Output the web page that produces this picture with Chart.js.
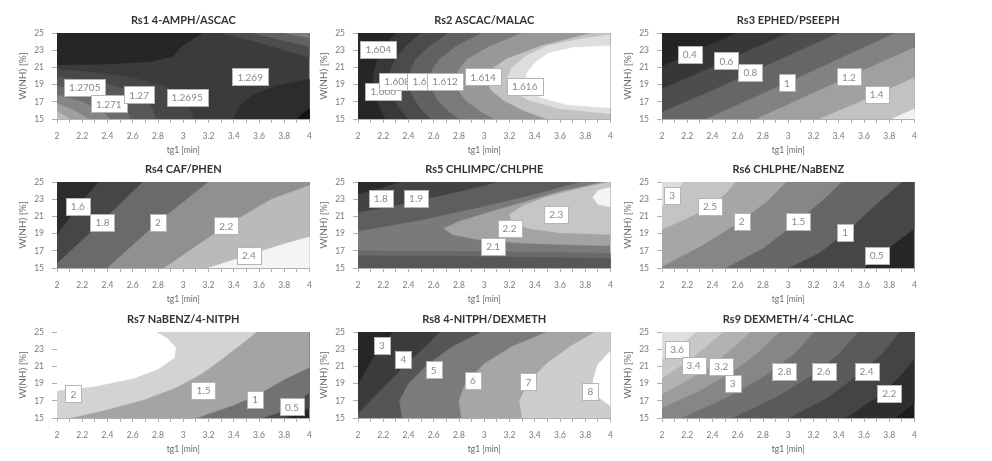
<!DOCTYPE html>
<html>
<head>
<meta charset="utf-8">
<script src="https://cdn.jsdelivr.net/npm/chart.js@4.4.1/dist/chart.umd.min.js"></script>
<style>
  html, body { margin: 0; padding: 0; background: #fff; }
  #sheet { position: relative; width: 992px; height: 461px; overflow: hidden; background: #fff; }
  #sheet canvas { position: absolute; }
</style>
</head>
<body>
<div id="sheet"></div>
<script>
// ---- axes ----
const xTickValues = [2, 2.1, 2.2, 2.3, 2.4, 2.5, 2.6, 2.7, 2.8, 2.9, 3, 3.1, 3.2, 3.3, 3.4, 3.5, 3.6, 3.7, 3.8, 3.9, 4];
const xTickLabels = ['2', '2.2', '2.4', '2.6', '2.8', '3', '3.2', '3.4', '3.6', '3.8', '4'];
const yTickValues = [15, 17, 19, 21, 23, 25];
const xAxisTitle = 'tg1 [min]';
const yAxisTitle = 'W(NH) [%]';

// ---- contour regions: each entry is a closed outline [tg1, W] in painting order ----
const rs1Title = 'Rs1 4-AMPH/ASCAC';
const rs1Regions = [
  [[2, 15], [4, 15], [4, 25], [2, 25]],
  [[2, 25], [2, 21.3], [2.4, 21.4], [2.75, 21.7], [2.92, 22.3], [2.98, 23.4], [3.15, 25]],
  [[3.3, 25], [3.6, 23.9], [3.85, 22.8], [4, 22.2], [4, 25]],
  [[3.55, 25], [3.8, 24.1], [4, 23.4], [4, 25]],
  [[3.8, 25], [4, 24.4], [4, 25]],
  [[3.4, 15], [3.45, 16.5], [3.55, 17.8], [3.75, 18.9], [4, 19.6], [4, 15]],
  [[3.9, 15], [3.95, 15.7], [4, 16.2], [4, 15]],
  [[2, 20.8], [2.3, 20.4], [2.6, 19.8], [2.85, 18.8], [3.0, 17.5], [3.05, 16.2], [3.08, 15], [2, 15]],
  [[2, 19.9], [2.3, 19.4], [2.55, 18.5], [2.7, 17.3], [2.76, 16.1], [2.78, 15], [2, 15]],
  [[2, 18.8], [2.25, 18.1], [2.45, 17], [2.55, 15.9], [2.58, 15], [2, 15]],
  [[2, 17.8], [2.2, 17], [2.35, 16], [2.42, 15], [2, 15]],
  [[2, 16.8], [2.12, 16.1], [2.25, 15], [2, 15]],
  [[2, 15.9], [2.1, 15], [2, 15]]
];
const rs1LabelText = ['1.2705', '1.271', '1.27', '1.2695', '1.269'];
const rs1LabelX = [2.22, 2.41, 2.65, 3.03, 3.53];
const rs1LabelY = [18.7, 16.75, 17.8, 17.5, 19.9];

const rs2Title = 'Rs2 ASCAC/MALAC';
const rs2Regions = [
  [[2, 15], [4, 15], [4, 25], [2, 25]],
  [[2.30, 25], [2.21, 23.5], [2.16, 22], [2.13, 20.8], [2.12, 19.6], [2.13, 18.4], [2.15, 17.2], [2.18, 16], [2.22, 15], [4, 15], [4, 25]],
  [[2.50, 25], [2.38, 23.5], [2.30, 22], [2.26, 20.8], [2.25, 19.6], [2.26, 18.4], [2.29, 17.2], [2.34, 16], [2.40, 15], [4, 15], [4, 25]],
  [[2.72, 25], [2.57, 23.5], [2.46, 22], [2.42, 20.8], [2.40, 19.6], [2.41, 18.4], [2.45, 17.2], [2.51, 16], [2.58, 15], [4, 15], [4, 25]],
  [[2.98, 25], [2.78, 23.5], [2.65, 22], [2.59, 20.8], [2.57, 19.6], [2.59, 18.4], [2.63, 17.2], [2.71, 16], [2.80, 15], [4, 15], [4, 25]],
  [[3.30, 25], [3.05, 23.5], [2.87, 22], [2.80, 20.8], [2.77, 19.6], [2.79, 18.4], [2.85, 17.2], [2.96, 16], [3.08, 15], [4, 15], [4, 25]],
  [[3.85, 25], [3.45, 23.5], [3.18, 22], [3.06, 20.8], [3.02, 19.6], [3.05, 18.4], [3.15, 17.2], [3.31, 16], [3.50, 15], [4, 15], [4, 25]],
  [[4, 24.8], [3.75, 24.3], [3.5, 23.5], [3.33, 22.3], [3.22, 21], [3.18, 19.6], [3.22, 18.3], [3.35, 17.2], [3.6, 16.2], [4, 15.6]],
  [[4, 23.5], [3.7, 23.3], [3.5, 22.6], [3.4, 21.5], [3.34, 20.4], [3.33, 19.6], [3.35, 18.6], [3.45, 17.5], [3.65, 16.7], [4, 16.3]]
];
const rs2LabelText = ['1.604', '1.606', '1.608', '1.61', '1.612', '1.614', '1.616'];
const rs2LabelX = [2.16, 2.2, 2.31, 2.51, 2.69, 2.99, 3.32];
const rs2LabelY = [23.05, 18.2, 19.4, 19.4, 19.4, 19.9, 18.8];

const rs3Title = 'Rs3 EPHED/PSEEPH';
const rs3Regions = [
  [[2, 15], [4, 15], [4, 25], [2, 25]],
  [[2, 21.1], [2.3, 23.1], [2.59, 25], [4, 25], [4, 15], [2, 15]],
  [[2, 18.5], [2.5, 21.7], [3.0, 25], [4, 25], [4, 15], [2, 15]],
  [[2, 15.8], [2.4, 18.3], [2.71, 20.4], [3.4, 25], [4, 25], [4, 15], [2, 15]],
  [[2.35, 15], [2.99, 19.2], [3.85, 25], [4, 25], [4, 15]],
  [[2.75, 15], [3.48, 19.9], [4, 23.3], [4, 15]],
  [[3.25, 15], [3.71, 17.9], [4, 19.8], [4, 15]],
  [[3.82, 15], [4, 16.2], [4, 15]]
];
const rs3LabelText = ['0.4', '0.6', '0.8', '1', '1.2', '1.4'];
const rs3LabelX = [2.22, 2.51, 2.70, 2.99, 3.48, 3.70];
const rs3LabelY = [22.5, 21.75, 20.4, 19.2, 19.9, 17.9];

const rs4Title = 'Rs4 CAF/PHEN';
const rs4Regions = [
  [[2, 15], [4, 15], [4, 25], [2, 25]],
  [[2, 18.8], [2.16, 22.1], [2.33, 25], [4, 25], [4, 15], [2, 15]],
  [[2, 15.5], [2.35, 20.3], [2.68, 25], [4, 25], [4, 15], [2, 15]],
  [[2.4, 15], [2.8, 20.3], [3.2, 25], [4, 25], [4, 15]],
  [[2.85, 15], [3.35, 20], [3.7, 23], [4, 24.6], [4, 15]],
  [[3.2, 15], [3.52, 16.5], [3.8, 17.8], [4, 18.6], [4, 15]]
];
const rs4LabelText = ['1.6', '1.8', '2', '2.2', '2.4'];
const rs4LabelX = [2.165, 2.36, 2.80, 3.34, 3.52];
const rs4LabelY = [22.15, 20.3, 20.3, 19.9, 16.5];

const rs5Title = 'Rs5 CHLIMPC/CHLPHE';
const rs5Regions = [
  [[2, 15], [4, 15], [4, 25], [2, 25]],
  [[2, 15], [2, 17.0], [3, 16.9], [4, 16.7], [4, 15]],
  [[2, 15], [2, 16.4], [3, 16.3], [4, 16.1], [4, 15]],
  [[2, 25], [2, 19.3], [2.5, 20.6], [3, 22.2], [3.4, 23.6], [3.75, 25]],
  [[2, 25], [2, 21.5], [2.4, 22.6], [2.8, 23.9], [3.1, 25]],
  [[2, 25], [2, 23.6], [2.2, 24.4], [2.32, 25]],
  [[4, 25], [3.95, 25], [3.6, 23.9], [3.3, 22.6], [3.0, 21.3], [2.8, 20.4], [2.68, 19.6], [2.75, 18.9], [2.95, 18.3], [3.3, 17.9], [3.7, 17.7], [4, 17.6]],
  [[4, 25], [3.8, 24.4], [3.5, 23.3], [3.3, 22.2], [3.2, 21.2], [3.22, 20.3], [3.35, 19.6], [3.6, 19.1], [4, 18.9]],
  [[4, 24.4], [3.9, 24.0], [3.86, 23.2], [3.9, 22.4], [4, 22.1]]
];
const rs5LabelText = ['1.8', '1.9', '2.3', '2.2', '2.1'];
const rs5LabelX = [2.18, 2.46, 3.57, 3.20, 3.07];
const rs5LabelY = [23.1, 23.1, 21.2, 19.6, 17.5];

const rs6Title = 'Rs6 CHLPHE/NaBENZ';
const rs6Regions = [
  [[2, 15], [4, 15], [4, 25], [2, 25]],
  [[3.6, 15], [3.72, 16.5], [3.88, 18.3], [4, 19.6], [4, 25], [2, 25], [2, 15]],
  [[3.0, 15], [3.25, 16.8], [3.45, 19.1], [3.65, 21.8], [3.82, 24], [3.9, 25], [2, 25], [2, 15]],
  [[2.5, 15], [2.8, 17.3], [3.08, 20.5], [3.28, 23], [3.42, 25], [2, 25], [2, 15]],
  [[2, 15.2], [2.3, 17.5], [2.63, 20.5], [2.85, 23], [2.98, 25], [2, 25]],
  [[2, 19.5], [2.2, 20.8], [2.38, 22.1], [2.5, 23.6], [2.58, 25], [2, 25]],
  [[2, 22.2], [2.08, 23.5], [2.17, 25], [2, 25]]
];
const rs6LabelText = ['3', '2.5', '2', '1.5', '1', '0.5'];
const rs6LabelX = [2.08, 2.38, 2.63, 3.08, 3.45, 3.70];
const rs6LabelY = [23.4, 22.15, 20.4, 20.4, 19.1, 16.5];

const rs7Title = 'Rs7 NaBENZ/4-NITPH';
const rs7Regions = [
  [[2, 15], [4, 15], [4, 25], [2, 25]],
  [[3.8, 15], [3.88, 15.4], [4, 16.2], [4, 25], [2, 25], [2, 15]],
  [[3.62, 15], [3.75, 15.6], [3.9, 16.8], [4, 18], [4, 25], [2, 25], [2, 15]],
  [[3.1, 15], [3.2, 15.5], [3.4, 16.5], [3.6, 17.8], [3.8, 19.5], [4, 20.9], [4, 25], [2, 25], [2, 15]],
  [[2.1, 15], [2.4, 16], [2.7, 17.2], [2.95, 18.6], [3.15, 20.2], [3.3, 21.8], [3.45, 23.5], [3.58, 25], [2, 25], [2, 15]],
  [[2, 18.2], [2.3, 18.7], [2.6, 19.6], [2.8, 20.7], [2.93, 22], [2.94, 23.2], [2.87, 24.3], [2.78, 25], [2, 25]]
];
const rs7LabelText = ['2', '1.5', '1', '0.5'];
const rs7LabelX = [2.13, 3.16, 3.57, 3.86];
const rs7LabelY = [17.8, 18.2, 17.2, 16.3];

const rs8Title = 'Rs8 4-NITPH/DEXMETH';
const rs8Regions = [
  [[2, 15], [4, 15], [4, 25], [2, 25]],
  [[2, 18.8], [2.1, 21.5], [2.2, 23.5], [2.28, 25], [4, 25], [4, 15], [2, 15]],
  [[2, 15.5], [2.2, 18.5], [2.4, 21.5], [2.55, 23.5], [2.65, 25], [4, 25], [4, 15], [2, 15]],
  [[2.35, 15], [2.33, 17], [2.4, 19], [2.55, 21.2], [2.75, 23.3], [2.98, 25], [4, 25], [4, 15]],
  [[2.82, 15], [2.8, 17], [2.85, 19], [3.0, 21.3], [3.22, 23.3], [3.5, 25], [4, 25], [4, 15]],
  [[3.3, 15], [3.28, 17], [3.35, 19.2], [3.5, 21.4], [3.68, 23.3], [3.88, 25], [4, 25], [4, 15]],
  [[4, 16.4], [3.9, 17.5], [3.86, 19.3], [3.9, 21.2], [4, 22.8]]
];
const rs8LabelText = ['3', '4', '5', '6', '7', '8'];
const rs8LabelX = [2.19, 2.36, 2.60, 2.91, 3.35, 3.84];
const rs8LabelY = [23.4, 21.8, 20.6, 19.35, 19.2, 18.1];

const rs9Title = 'Rs9 DEXMETH/4\u00B4-CHLAC';
const rs9Regions = [
  [[2, 15], [4, 15], [4, 25], [2, 25]],
  [[3.85, 15], [4, 16.8], [4, 25], [2, 25], [2, 15]],
  [[3.45, 15], [3.7, 17.4], [3.88, 19.8], [4, 21.9], [4, 25], [2, 25], [2, 15]],
  [[3.0, 15], [3.3, 17.3], [3.55, 20], [3.75, 22.6], [3.88, 25], [2, 25], [2, 15]],
  [[2.55, 15], [2.9, 17.4], [3.2, 20.1], [3.4, 22.5], [3.55, 25], [2, 25], [2, 15]],
  [[2.15, 15], [2.5, 17.3], [2.8, 19.8], [3.05, 22.5], [3.2, 25], [2, 25], [2, 15]],
  [[2, 16.2], [2.3, 18.2], [2.55, 20.3], [2.75, 22.5], [2.93, 25], [2, 25]],
  [[2, 17.8], [2.3, 20.2], [2.5, 22.4], [2.7, 25], [2, 25]],
  [[2, 19.6], [2.2, 21.6], [2.35, 23.3], [2.48, 25], [2, 25]],
  [[2, 21.8], [2.15, 23.5], [2.27, 25], [2, 25]]
];
const rs9LabelText = ['3.6', '3.4', '3.2', '3', '2.8', '2.6', '2.4', '2.2'];
const rs9LabelX = [2.12, 2.25, 2.47, 2.56, 2.97, 3.28, 3.62, 3.80];
const rs9LabelY = [23.0, 21.1, 21.0, 19.0, 20.4, 20.4, 20.4, 17.9];

// ---- grey shades for the filled regions (same order as the outlines) ----
const rs1Shades = ['#3b3b3b', '#262626', '#4c4c4c', '#626262', '#7c7c7c', '#2c2c2c', '#151515', '#474747', '#585858', '#6d6d6d', '#858585', '#a0a0a0', '#bcbcbc'];
const rs2Shades = ['#262626', '#383838', '#4b4b4b', '#616161', '#7b7b7b', '#989898', '#c2c2c2', '#dedede', '#ffffff'];
const rs3Shades = ['#242424', '#373737', '#4d4d4d', '#666666', '#828282', '#a0a0a0', '#c2c2c2', '#f2f2f2'];
const rs4Shades = ['#2c2c2c', '#464646', '#6a6a6a', '#909090', '#bababa', '#f4f4f4'];
const rs5Shades = ['#7a7a7a', '#6a6a6a', '#575757', '#5e5e5e', '#434343', '#2b2b2b', '#a3a3a3', '#c6c6c6', '#f4f4f4'];
const rs6Shades = ['#262626', '#464646', '#666666', '#868686', '#a6a6a6', '#c4c4c4', '#dedede'];
const rs7Shades = ['#262626', '#4a4a4a', '#727272', '#a4a4a4', '#d3d3d3', '#ffffff'];
const rs8Shades = ['#262626', '#3b3b3b', '#555555', '#7b7b7b', '#a6a6a6', '#cdcdcd', '#ffffff'];
const rs9Shades = ['#1c1c1c', '#2e2e2e', '#444444', '#5a5a5a', '#707070', '#868686', '#9c9c9c', '#b2b2b2', '#c8c8c8', '#dedede'];

// ---- panel layout ----
const FONT = 'Lato, "Open Sans", sans-serif';
const colLeft = [0, 301, 605];
const rowTop = [0, 149, 299];
const CANVAS_W = 320, CANVAS_H = 155;

const panels = [
  [rs1Title, rs1Regions, rs1Shades, rs1LabelText, rs1LabelX, rs1LabelY],
  [rs2Title, rs2Regions, rs2Shades, rs2LabelText, rs2LabelX, rs2LabelY],
  [rs3Title, rs3Regions, rs3Shades, rs3LabelText, rs3LabelX, rs3LabelY],
  [rs4Title, rs4Regions, rs4Shades, rs4LabelText, rs4LabelX, rs4LabelY],
  [rs5Title, rs5Regions, rs5Shades, rs5LabelText, rs5LabelX, rs5LabelY],
  [rs6Title, rs6Regions, rs6Shades, rs6LabelText, rs6LabelX, rs6LabelY],
  [rs7Title, rs7Regions, rs7Shades, rs7LabelText, rs7LabelX, rs7LabelY],
  [rs8Title, rs8Regions, rs8Shades, rs8LabelText, rs8LabelX, rs8LabelY],
  [rs9Title, rs9Regions, rs9Shades, rs9LabelText, rs9LabelX, rs9LabelY]
];

// Boxed contour-level labels, placed through the chart's own scales
const contourLabels = {
  id: 'contourLabels',
  afterDatasetsDraw(chart, args, opts) {
    const {ctx} = chart;
    const xs = chart.scales.x, ys = chart.scales.y;
    ctx.save();
    ctx.font = '10px ' + FONT;
    ctx.textAlign = 'center';
    ctx.textBaseline = 'middle';
    opts.texts.forEach((t, i) => {
      const px = xs.getPixelForValue(opts.xs[i]);
      const py = ys.getPixelForValue(opts.ys[i]);
      const w = Math.round(ctx.measureText(t).width + 10);
      const h = 17;
      const left = Math.round(px - w / 2) + 0.5;
      const top = Math.round(py - h / 2) + 0.5;
      ctx.fillStyle = '#ffffff';
      ctx.fillRect(left, top, w, h);
      ctx.strokeStyle = '#b4b4b4';
      ctx.lineWidth = 1;
      ctx.strokeRect(left, top, w, h);
      ctx.fillStyle = '#8a8a8a';
      ctx.fillText(t, px, py + 0.5);
    });
    ctx.restore();
  }
};

const sheet = document.getElementById('sheet');

panels.forEach(([title, regions, shades, texts, lx, ly], i) => {
  const cv = document.createElement('canvas');
  cv.width = CANVAS_W;
  cv.height = CANVAS_H;
  cv.style.width = CANVAS_W + 'px';
  cv.style.height = CANVAS_H + 'px';
  cv.style.left = colLeft[i % 3] + 'px';
  cv.style.top = rowTop[Math.floor(i / 3)] + 'px';
  sheet.appendChild(cv);

  const n = regions.length;
  new Chart(cv, {
    type: 'line',
    data: {
      datasets: regions.map((poly, k) => ({
        data: poly.map(([x, y]) => ({x, y})),
        backgroundColor: shades[k],
        borderColor: shades[k],
        borderWidth: 0.6,
        fill: 'shape',
        pointRadius: 0,
        pointHoverRadius: 0,
        tension: 0,
        order: n - k
      }))
    },
    options: {
      responsive: false,
      animation: false,
      devicePixelRatio: 1,
      events: [],
      layout: {padding: {left: 0, right: 9, top: 0, bottom: 0}},
      plugins: {
        legend: {display: false},
        tooltip: {enabled: false},
        title: {
          display: true,
          text: title,
          fullSize: false,
          color: '#333333',
          font: {family: FONT, size: 11, weight: 'bold', lineHeight: 1.2},
          padding: {top: 13.5, bottom: 6.3}
        },
        contourLabels: {texts: texts, xs: lx, ys: ly}
      },
      scales: {
        x: {
          type: 'linear',
          position: 'bottom',
          min: 2,
          max: 4,
          afterBuildTicks: (s) => { s.ticks = xTickValues.map(v => ({value: v})); },
          afterFit: (s) => { s.height = 36; },
          ticks: {
            autoSkip: false,
            maxRotation: 0,
            padding: 8,
            color: '#7a7a7a',
            font: {family: FONT, size: 8.5},
            callback: (v, idx) => (idx % 2 === 0 ? xTickLabels[idx / 2] : '')
          },
          grid: {drawOnChartArea: false, drawTicks: true, tickLength: 4, color: '#b0b0b0'},
          border: {display: true, color: '#b0b0b0'},
          title: {
            display: true,
            text: xAxisTitle,
            color: '#6a6a6a',
            font: {family: FONT, size: 8.5},
            padding: {top: 0, bottom: 0}
          }
        },
        y: {
          type: 'linear',
          position: 'left',
          min: 15,
          max: 25,
          afterBuildTicks: (s) => { s.ticks = yTickValues.map(v => ({value: v})); },
          afterFit: (s) => { s.width = 57; },
          ticks: {
            autoSkip: false,
            padding: 8,
            color: '#7a7a7a',
            font: {family: FONT, size: 8.5},
            callback: (v) => String(v)
          },
          grid: {drawOnChartArea: false, drawTicks: true, tickLength: 5, color: '#b0b0b0'},
          border: {display: true, color: '#b0b0b0'},
          title: {
            display: true,
            text: yAxisTitle,
            color: '#6a6a6a',
            font: {family: FONT, size: 10},
            padding: {top: 17, bottom: 0}
          }
        }
      }
    },
    plugins: [contourLabels]
  });
});
</script>
</body>
</html>
